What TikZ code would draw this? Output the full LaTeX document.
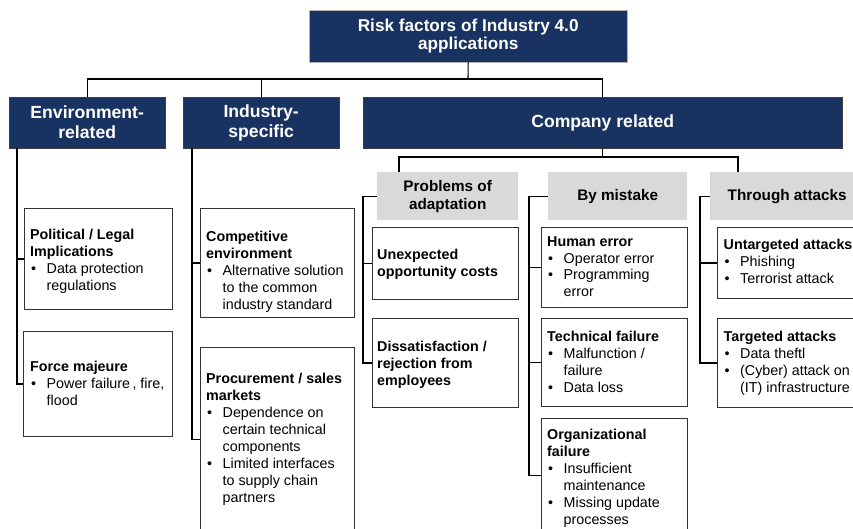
\documentclass[tikz,border=0pt]{standalone}
\usepackage{fontspec}
\setmainfont{Liberation Sans}

\definecolor{navy}{RGB}{24,50,98}
\definecolor{boxgray}{RGB}{217,217,217}

\newcommand{\headfont}{\fontsize{17.6}{20}\selectfont\bfseries}
\newcommand{\bodyfont}{\fontsize{14.3}{16.9}\selectfont}
% bullet and indent for the lists
\newcommand{\bul}{\makebox[16.5pt][l]{\hspace{1pt}\textbullet}}
\newcommand{\ind}{\hspace*{16.5pt}}

\tikzset{
  headbox/.style={fill=navy, draw=black!75, text=white, font=\headfont, align=center, inner sep=0pt, anchor=north west},
  groupbox/.style={fill=boxgray, font=\fontsize{15.3}{18.3}\selectfont\bfseries, align=center, inner sep=0pt, anchor=north west},
  itembox/.style={draw=black!80, line width=0.9pt, inner sep=0pt, anchor=north west},
  % text is placed by the baseline of its first line
  itemtext/.style={font=\bodyfont, align=left, anchor=north west, yshift=10.6pt, inner sep=0pt},
  link/.style={draw=black, line width=1.1pt}
}

\begin{document}
\begin{tikzpicture}[x=1pt,y=-1pt]
  \useasboundingbox (0,0) rectangle (853,529);
  \clip (0,0) rectangle (853,529);

  % ---------- Top level ----------
  \node[headbox, draw=black!30, font=\fontsize{17.2}{17.7}\selectfont\bfseries,
        minimum width=318, minimum height=52] (top) at (309,10)
        {Risk factors of Industry 4.0\\applications};

  % ---------- Second level ----------
  \node[headbox, minimum width=156, minimum height=51] (env) at (9,97) {Environment-\\related};
  \node[headbox, minimum width=156, minimum height=51] (ind) at (183,97) {Industry-\\specific};
  \node[headbox, minimum width=479, minimum height=51] (firm) at (363,97) {Company related};

  % ---------- Groups below company ----------
  \node[groupbox, minimum width=141, minimum height=48] (prob) at (377,172) {Problems of\\adaptation};
  \node[groupbox, minimum width=139, minimum height=48] (mist) at (548,172) {By mistake};
  \node[groupbox, minimum width=154, minimum height=48] (att) at (710,172) {Through attacks};

  % ---------- Boxes: environment-related ----------
  \node[itembox, minimum width=148, minimum height=101] (pol) at (24,208) {};
  \node[itemtext] (pol-t) at (30,240)
    {\textbf{Political / Legal}\\\textbf{Implications}\\\bul Data protection\\\ind regulations};
  \node[itembox, minimum width=149, minimum height=105] (force) at (23,331) {};
  \node[itemtext] (force-t) at (30,372)
    {\textbf{Force majeure}\\\bul Power failure\,, fire,\\\ind flood};

  % ---------- Boxes: industry-specific ----------
  \node[itembox, minimum width=154, minimum height=109] (compet) at (200,208) {};
  \node[itemtext] (compet-t) at (206,241.7)
    {\textbf{Competitive}\\\textbf{environment}\\\bul Alternative solution\\\ind to the common\\\ind industry standard};
  \node[itembox, minimum width=154, minimum height=184] (proc) at (200,347) {};
  \node[itemtext] (proc-t) at (206,384)
    {\textbf{Procurement / sales}\\\textbf{markets}\\\bul Dependence on\\\ind certain technical\\\ind components\\
     \bul Limited interfaces\\\ind to supply chain\\\ind partners};

  % ---------- Boxes: problems of adaptation ----------
  \node[itembox, minimum width=146, minimum height=72] (unexp) at (372,227) {};
  \node[itemtext] (unexp-t) at (377,260)
    {\textbf{Unexpected}\\\textbf{opportunity costs}};
  \node[itembox, minimum width=146, minimum height=89] (dissat) at (372,318) {};
  \node[itemtext] (dissat-t) at (377,351.7)
    {\textbf{Dissatisfaction /}\\\textbf{rejection from}\\\textbf{employees}};

  % ---------- Boxes: by mistake ----------
  \node[itembox, minimum width=146, minimum height=80] (human) at (541,227) {};
  \node[itemtext] (human-t) at (547,246.7)
    {\textbf{Human error}\\\bul Operator error\\\bul Programming\\\ind error};
  \node[itembox, minimum width=146, minimum height=88] (tech) at (541,318) {};
  \node[itemtext] (tech-t) at (547,341.7)
    {\textbf{Technical failure}\\\bul Malfunction /\\\ind failure\\\bul Data loss};
  \node[itembox, minimum width=146, minimum height=114] (org) at (541,418) {};
  \node[itemtext] (org-t) at (547,440)
    {\textbf{Organizational}\\\textbf{failure}\\\bul Insufficient\\\ind maintenance\\\bul Missing update\\\ind processes};

  % ---------- Boxes: through attacks ----------
  \node[itembox, minimum width=150, minimum height=71] (untarg) at (717,227) {};
  \node[itemtext] (untarg-t) at (723.5,250)
    {\textbf{Untargeted attacks}\\\bul Phishing\\\bul Terrorist attack};
  \node[itembox, minimum width=150, minimum height=89] (targ) at (717,318) {};
  \node[itemtext] (targ-t) at (723.5,341.7)
    {\textbf{Targeted attacks}\\\bul Data theftl\\\bul (Cyber) attack on\\\ind (IT) infrastructure};

  % ---------- Connectors: top level ----------
  \coordinate (bus) at (468,79);
  \draw[link] (top.south) -- (bus);
  \draw[link] (env.north) |- (bus) -| (firm.north);
  \draw[link] (ind.north) -- (ind.north |- bus);

  % ---------- Connectors: company to groups ----------
  \coordinate (hubl) at (399,157);
  \coordinate (hubr) at (738,157);
  \draw[link] (firm.south) -- (firm.south |- hubl);
  \draw[link] (prob.north -| hubl) -- (hubl) -- (hubr) -- (att.north -| hubr);

  % ---------- Connectors: columns ----------
  \coordinate (envcol) at ([xshift=8pt]env.south west);
  \draw[link] (envcol) |- (force.west);
  \draw[link] (envcol |- pol.west) -- (pol.west);

  \coordinate (indcol) at ([xshift=9pt]ind.south west);
  \draw[link] (indcol) |- (proc.west);
  \draw[link] (indcol |- compet.west) -- (compet.west);

  \coordinate (probcol) at ([xshift=-14pt]prob.west);
  \draw[link] (prob.west) -- (probcol) |- (dissat.west);
  \draw[link] (probcol |- unexp.west) -- (unexp.west);

  \coordinate (mistcol) at ([xshift=-19pt]mist.west);
  \draw[link] (mist.west) -- (mistcol) |- (org.west);
  \draw[link] (mistcol |- human.west) -- (human.west);
  \draw[link] (mistcol |- tech.west) -- (tech.west);

  \coordinate (attcol) at ([xshift=-10pt]att.west);
  \draw[link] (att.west) -- (attcol) |- (targ.west);
  \draw[link] (attcol |- untarg.west) -- (untarg.west);
\end{tikzpicture}
\end{document}
